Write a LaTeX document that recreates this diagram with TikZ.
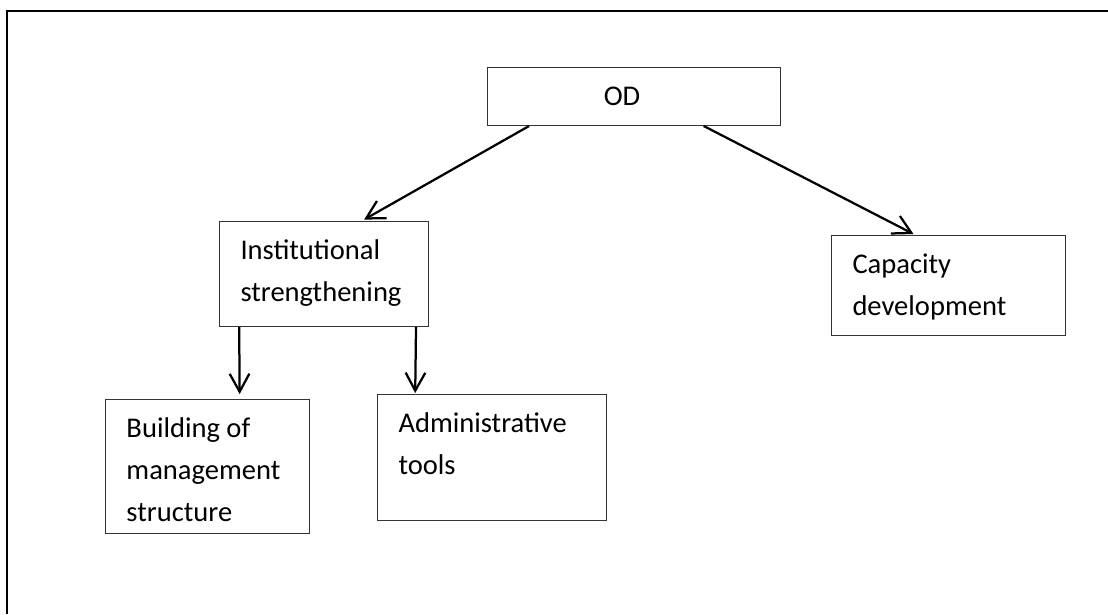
\documentclass[tikz,border=0pt]{standalone}
\usepackage{fontspec}
\setmainfont{Carlito}
\usetikzlibrary{arrows.meta,calc}
\newcommand{\boxtxt}[3]{\parbox[t][#2][t]{#1}{\raggedright #3}}

\begin{document}
\begin{tikzpicture}[
      x=0.025cm, y=-0.025cm,
      block/.style={
        draw=black!80, line width=0.7pt, anchor=north west,
        inner xsep=0.525cm, inner ysep=0.45cm,
        font=\fontsize{20.3}{29.9}\selectfont
      },
      arr/.style={-{Straight Barb[length=12.8pt,width=14pt]}, line width=1.6pt},
      ]

  \useasboundingbox (0,0) rectangle (1108,614);
  \draw[line width=1.5pt] (7,614) -- (7,11) -- (1108,11);

  \node[block, inner sep=0pt, minimum width=7.325cm, minimum height=1.45cm] (od) at (487,67) {OD\hspace*{0.6cm}};
  \node[block] (inst) at (219,221) {\boxtxt{4.175cm}{1.725cm}{Institutional\\strengthening}};
  \node[block] (cap)  at (831,235) {\boxtxt{4.8cm}{1.6cm}{Capacity\\development}};
  \node[block] (bld)  at (105,399) {\boxtxt{4.05cm}{2.45cm}{Building of\\management\\structure}};
  \node[block] (adm)  at (377,394) {\boxtxt{4.675cm}{2.25cm}{Administrative\\tools}};

  % Connect the nodes
  \draw[arr, shorten >=2pt] ($(od.south west)!0.143!(od.south east)$) -- ($(inst.north west)!0.679!(inst.north east)$);
  \draw[arr, shorten >=1.5pt] ($(od.south west)!0.737!(od.south east)$) -- ($(cap.north west)!0.359!(cap.north east)$);
  \draw[arr, shorten >=3.5pt] ($(inst.south west)!0.096!(inst.south east)$) -- ($(bld.north west)!0.657!(bld.north east)$);
  \draw[arr, shorten >=0.7pt] ($(inst.south west)!0.938!(inst.south east)$) -- ($(adm.north west)!0.166!(adm.north east)$);

\end{tikzpicture}
\end{document}
